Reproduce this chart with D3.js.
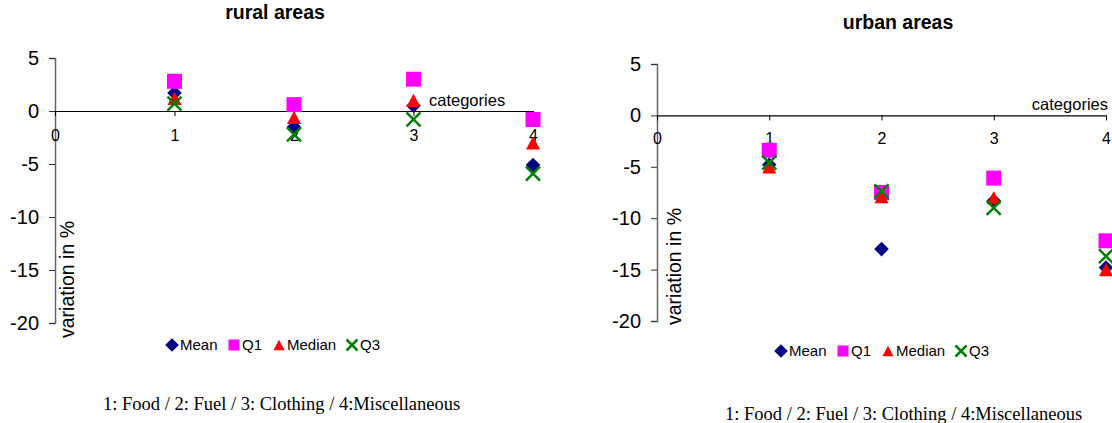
<!DOCTYPE html>
<html>
<head>
<meta charset="utf-8">
<script src="https://cdn.jsdelivr.net/npm/d3@7"></script>
<style>
  body { margin: 0; background: #fff; }
  svg { display: block; font-family: Arial, "Liberation Sans", sans-serif; }
</style>
</head>
<body>
<div id="chart"></div>
<script>
// Data
const categories = [1, 2, 3, 4];
const seriesNames = ["Mean", "Q1", "Median", "Q3"];
const yTicks = [5, 0, -5, -10, -15, -20];
const xTicks = [0, 1, 2, 3, 4];

const ruralMean   = [1.7, -1.5, 0.5, -5.1];
const ruralQ1     = [2.8, 0.6, 3.0, -0.8];
const ruralMedian = [1.2, -0.6, 1.0, -3.0];
const ruralQ3     = [0.7, -2.2, -0.8, -5.9];

const urbanMean   = [-4.8, -13.0, -8.3, -14.8];
const urbanQ1     = [-3.4, -7.5, -6.1, -12.2];
const urbanMedian = [-5.0, -7.9, -8.0, -15.0];
const urbanQ3     = [-4.6, -7.4, -9.0, -13.7];

const footnote = "1: Food / 2: Fuel / 3: Clothing / 4:Miscellaneous";

const colors = { Mean: "#000080", Q1: "#ff00ff", Median: "#ff0000", Q3: "#008000" };
const sans = "Arial, 'Liberation Sans', sans-serif";

const svg = d3.select("#chart")
  .append("svg")
  .attr("width", 1112)
  .attr("height", 423);

// Marker shapes
function marker(g, name, x, y, s) {
  const c = colors[name];
  if (name === "Mean") {
    g.append("path").attr("d", d3.symbol(d3.symbolSquare, s * s * 0.55)())
      .attr("transform", `translate(${x},${y}) rotate(45)`).attr("fill", c);
  } else if (name === "Q1") {
    g.append("rect").attr("x", x - s / 2).attr("y", y - s / 2)
      .attr("width", s).attr("height", s).attr("fill", c);
  } else if (name === "Median") {
    const h = s * 0.95;
    g.append("path")
      .attr("d", `M${x},${y - h / 2}L${x + s / 2},${y + h / 2}L${x - s / 2},${y + h / 2}Z`)
      .attr("fill", c);
  } else {
    const r = s / 2;
    g.append("path")
      .attr("d", `M${x - r},${y - r}L${x + r},${y + r}M${x + r},${y - r}L${x - r},${y + r}`)
      .attr("stroke", c).attr("stroke-width", 2.5).attr("fill", "none");
  }
}

function drawPanel(p) {
  const g = svg.append("g");

  const x = d3.scaleLinear().domain([0, 4]).range([p.x0, p.x1]);
  const y = d3.scaleLinear().domain([5, -20]).range([p.yTop, p.yBot]);

  // Title
  g.append("text").attr("x", p.titleX).attr("y", p.titleY)
    .attr("text-anchor", "middle").attr("font-weight", "bold")
    .attr("font-size", 19.5).text(p.title);

  // Y axis
  const yAxis = g.append("g")
    .attr("transform", `translate(${p.x0},0)`)
    .call(d3.axisLeft(y).tickValues(yTicks).tickSize(6).tickPadding(10).tickFormat(d => String(d)));
  yAxis.attr("font-size", null).attr("font-family", null);
  yAxis.select(".domain").attr("stroke", "#666").attr("stroke-width", 1.5);
  yAxis.selectAll(".tick line").attr("stroke", "#333");
  yAxis.selectAll(".tick text").style("font-size", "20px").attr("fill", "#000")
    .style("font-family", sans);

  // X axis at y = 0
  const xAxis = g.append("g")
    .attr("transform", `translate(0,${y(0)})`)
    .call(d3.axisBottom(x).tickValues(xTicks).tickSize(5).tickSizeOuter(0)
      .tickPadding(p.xPad).tickFormat(d => String(d)));
  xAxis.attr("font-size", null).attr("font-family", null);
  xAxis.select(".domain").attr("stroke", "#000").attr("stroke-width", 1.2);
  xAxis.selectAll(".tick line").attr("stroke", "#000");
  xAxis.selectAll(".tick text").style("font-size", "16px").attr("fill", "#000")
    .style("font-family", sans);

  // Axis titles
  g.append("text").attr("x", p.catX).attr("y", y(0) - 5)
    .attr("text-anchor", p.catAnchor).attr("font-size", 16.5).text("categories");
  g.append("text")
    .attr("transform", `translate(${p.x0 + p.yLabelDx},${p.yLabelBottom}) rotate(-90)`)
    .attr("font-size", 19.5).text("variation in %");

  // Points
  const data = { Mean: p.mean, Q1: p.q1, Median: p.median, Q3: p.q3 };
  seriesNames.forEach(name => {
    data[name].forEach((v, i) => marker(g, name, x(categories[i]), y(v), name === "Q1" ? 15 : 14));
  });

  // Legend
  const leg = g.append("g").attr("transform", `translate(${p.legX},${p.legY})`);
  let lx = 0;
  const legWidths = { Mean: 62, Q1: 45, Median: 73, Q3: 40 };
  seriesNames.forEach(name => {
    marker(leg, name, lx + 6, 0, name === "Mean" ? 13 : 11);
    leg.append("text").attr("x", lx + 14).attr("y", 5).attr("font-size", 15).text(name);
    lx += legWidths[name];
  });

  // Footnote
  g.append("text").attr("x", p.footX).attr("y", p.footY)
    .attr("font-family", "'Liberation Serif', 'Times New Roman', serif")
    .attr("font-size", 18.5).text(footnote);
}

drawPanel({
  title: "rural areas", titleX: 275, titleY: 19,
  x0: 55, x1: 533, yTop: 58, yBot: 323, xPad: 14,
  catX: 429, catAnchor: "start", yLabelDx: 19, yLabelBottom: 338,
  mean: ruralMean, q1: ruralQ1, median: ruralMedian, q3: ruralQ3,
  legX: 166, legY: 345, footX: 103, footY: 410
});

drawPanel({
  title: "urban areas", titleX: 898, titleY: 29,
  x0: 657, x1: 1106, yTop: 64, yBot: 321, xPad: 12,
  catX: 1108, catAnchor: "end", yLabelDx: 24, yLabelBottom: 325,
  mean: urbanMean, q1: urbanQ1, median: urbanMedian, q3: urbanQ3,
  legX: 775, legY: 351, footX: 725, footY: 420
});
</script>
</body>
</html>
